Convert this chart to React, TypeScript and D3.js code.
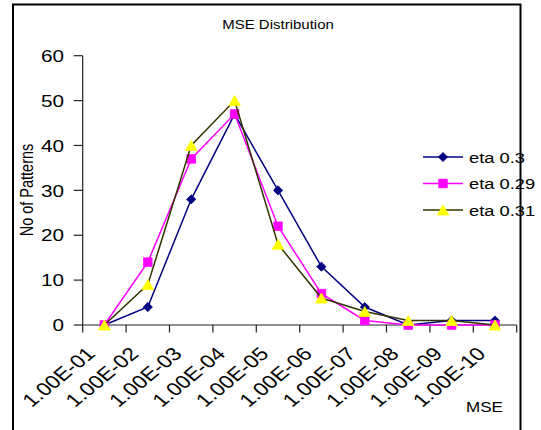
import React from "react";
import * as d3 from "d3";

const categories = [
  "1.00E-01", "1.00E-02", "1.00E-03", "1.00E-04", "1.00E-05",
  "1.00E-06", "1.00E-07", "1.00E-08", "1.00E-09", "1.00E-10",
];
const eta03 = [0, 4, 28, 47, 30, 13, 4, 0, 1, 1];
const eta029 = [0, 14, 37, 47, 22, 7, 1, 0, 0, 0];
const eta031 = [0, 9, 40, 50, 18, 6, 3, 1, 1, 0];
const yTicks = [0, 10, 20, 30, 40, 50, 60];
const seriesNames = ["eta 0.3", "eta 0.29", "eta 0.31"];

const W = 541;
const H = 430;
const SX = 1.22;
const FONT = "'Liberation Sans', Arial, sans-serif";

const plotLeft = 82.7;
const plotRight = 516.7;
const plotTop = 55.7;
const plotBottom = 325;

type Marker = "diamond" | "square" | "triangle";

function markerPath(kind: Marker, x: number, y: number): string {
  const p = d3.path();
  if (kind === "diamond") {
    const r = 4.6;
    p.moveTo(x, y - r);
    p.lineTo(x + r, y);
    p.lineTo(x, y + r);
    p.lineTo(x - r, y);
    p.closePath();
  } else if (kind === "square") {
    const r = 4.3;
    p.rect(x - r, y - r, 2 * r, 2 * r);
  } else {
    const w = 5.8;
    const h = 5;
    p.moveTo(x, y - h);
    p.lineTo(x + w, y + h);
    p.lineTo(x - w, y + h);
    p.closePath();
  }
  return p.toString();
}

const series = [
  { name: seriesNames[0], values: eta03, line: "#000080", fill: "#000080", marker: "diamond" as Marker },
  { name: seriesNames[1], values: eta029, line: "#FF00FF", fill: "#FF00FF", marker: "square" as Marker },
  { name: seriesNames[2], values: eta031, line: "#333300", fill: "#FFFF00", marker: "triangle" as Marker },
];

function SText(props: { x: number; y: number; anchor?: string; size: number; rotate?: number; children: React.ReactNode }) {
  const { x, y, anchor = "start", size, rotate = 0, children } = props;
  return (
    <g transform={`translate(${x},${y}) scale(${SX},1) rotate(${rotate})`}>
      <text x={0} y={0} textAnchor={anchor} fontSize={size} fontFamily={FONT} fill="#000">
        {children}
      </text>
    </g>
  );
}

export default function App() {
  const xBand = d3.scaleBand<string>().domain(categories).range([plotLeft, plotRight]).padding(0);
  const xC = (i: number) => (xBand(categories[i]) as number) + xBand.bandwidth() / 2;
  const y = d3.scaleLinear().domain([0, 60]).range([plotBottom, plotTop]);
  const line = d3
    .line<number>()
    .x((_, i) => xC(i))
    .y((d) => y(d));

  const boundaries = categories.map((c) => xBand(c) as number).concat([plotRight]);

  const legendX0 = 423;
  const legendX1 = 463;
  const legendRows = [157, 183.5, 210];

  return (
    <svg width={W} height={H} style={{ position: "absolute", left: 0, top: 0 }}>
      <rect x={0} y={0} width={W} height={H} fill="#fff" />
      {/* outer frame */}
      <path d={`M13,${H + 5} L13,4.5 L520.5,4.5 L520.5,${H + 5}`} fill="none" stroke="#000" strokeWidth={2} />

      <SText x={278} y={29} anchor="middle" size={12.3}>MSE Distribution</SText>

      {/* y axis */}
      <line x1={plotLeft} x2={plotLeft} y1={plotTop} y2={plotBottom} stroke="#222" strokeWidth={1.2} />
      {yTicks.map((t) => (
        <g key={t}>
          <line x1={plotLeft - 9} x2={plotLeft} y1={y(t)} y2={y(t)} stroke="#222" strokeWidth={1.2} />
          <SText x={64} y={y(t) + 6.2} anchor="end" size={17}>{t}</SText>
        </g>
      ))}
      {/* x axis */}
      <line x1={plotLeft} x2={plotRight} y1={plotBottom} y2={plotBottom} stroke="#222" strokeWidth={1.2} />
      {boundaries.map((b, i) => (
        <line key={i} x1={b} x2={b} y1={plotBottom} y2={plotBottom + 7.5} stroke="#222" strokeWidth={1.2} />
      ))}
      {categories.map((c, i) => (
        <SText key={c} x={xC(i) - 8} y={plotBottom + 30} anchor="end" size={18.5} rotate={-45}>
          {c}
        </SText>
      ))}

      <SText x={33} y={190} anchor="middle" size={14.5} rotate={-90}>No of Patterns</SText>
      <SText x={466} y={412} anchor="start" size={14}>MSE</SText>

      {series.map((s) => (
        <g key={s.name}>
          <path d={line(s.values) || ""} fill="none" stroke={s.line} strokeWidth={1.5} />
          {s.values.map((v, i) => (
            <path key={i} d={markerPath(s.marker, xC(i), y(v))} fill={s.fill} stroke={s.marker === "triangle" ? "#FFFF00" : s.fill} strokeWidth={0.8} />
          ))}
        </g>
      ))}

      {series.map((s, k) => (
        <g key={"lg" + s.name}>
          <line x1={legendX0} x2={legendX1} y1={legendRows[k]} y2={legendRows[k]} stroke={s.line} strokeWidth={1.5} />
          <path d={markerPath(s.marker, (legendX0 + legendX1) / 2, legendRows[k])} fill={s.fill} stroke={s.fill} strokeWidth={0.8} />
          <SText x={469} y={legendRows[k] + 5.5} anchor="start" size={15}>{s.name}</SText>
        </g>
      ))}
    </svg>
  );
}
